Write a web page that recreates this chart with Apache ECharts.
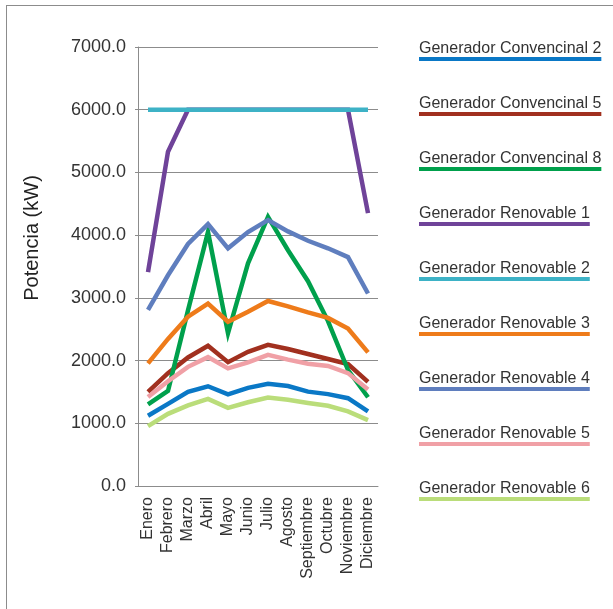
<!DOCTYPE html>
<html>
<head>
<meta charset="utf-8">
<script src="https://cdn.jsdelivr.net/npm/echarts@6/dist/echarts.min.js"></script>
<style>
  html, body { margin: 0; padding: 0; background: #fff; overflow: hidden; }
  #frame { position: absolute; left: 6px; top: 5px; width: 700px; height: 700px;
           border-left: 1px solid #8c8c8c; border-top: 1px solid #8c8c8c; }
  #chart { position: absolute; left: 0; top: 0; width: 613px; height: 609px; }
</style>
</head>
<body>
<div id="frame"></div>
<div id="chart"></div>
<script>
// Months on the category axis
const months = ['Enero', 'Febrero', 'Marzo', 'Abril', 'Mayo', 'Junio', 'Julio',
  'Agosto', 'Septiembre', 'Octubre', 'Noviembre', 'Diciembre'];

// Monthly power per generator (kW)
const convencional2 = [1120, 1310, 1500, 1590, 1460, 1565, 1630, 1595, 1505, 1465, 1400, 1190];
const convencional5 = [1500, 1800, 2050, 2235, 1975, 2140, 2250, 2185, 2105, 2025, 1945, 1660];
const convencional8 = [1300, 1515, 2800, 4050, 2435, 3550, 4290, 3760, 3265, 2630, 1850, 1415];
const renovable1 = [3410, 5330, 6000, 6000, 6000, 6000, 6000, 6000, 6000, 6000, 6000, 4350];
const renovable2 = [6000, 6000, 6000, 6000, 6000, 6000, 6000, 6000, 6000, 6000, 6000, 6000];
const renovable3 = [1955, 2345, 2700, 2910, 2620, 2780, 2950, 2865, 2768, 2680, 2510, 2130];
const renovable4 = [2810, 3360, 3860, 4175, 3790, 4050, 4240, 4060, 3910, 3790, 3650, 3070];
const renovable5 = [1420, 1670, 1900, 2055, 1875, 1970, 2090, 2015, 1950, 1915, 1800, 1540];
const renovable6 = [955, 1150, 1285, 1390, 1245, 1335, 1410, 1375, 1325, 1280, 1190, 1050];

// Y axis range
const yMin = 0, yMax = 7000, yStep = 1000;

const seriesDefs = [
  { name: 'Generador Convencinal 2', data: convencional2, color: '#0a78c6' },
  { name: 'Generador Convencinal 5', data: convencional5, color: '#a1301f' },
  { name: 'Generador Convencinal 8', data: convencional8, color: '#00a04c' },
  { name: 'Generador Renovable 1', data: renovable1, color: '#6f4399' },
  { name: 'Generador Renovable 2', data: renovable2, color: '#3db2c6' },
  { name: 'Generador Renovable 3', data: renovable3, color: '#ee7b1a' },
  { name: 'Generador Renovable 4', data: renovable4, color: '#5f7ebe' },
  { name: 'Generador Renovable 5', data: renovable5, color: '#f0a0a6' },
  { name: 'Generador Renovable 6', data: renovable6, color: '#badd7a' }
];

const FONT = '"Liberation Sans", Arial, sans-serif';
const chart = echarts.init(document.getElementById('chart'), null, { renderer: 'canvas' });

// Legend: label text with a coloured bar underneath, as wide as the text
const measureCtx = document.createElement('canvas').getContext('2d');
measureCtx.font = '16px ' + FONT;
const legendLeft = 419, legendFirstLine = 57, legendStep = 55;
const legendGraphics = [];
seriesDefs.forEach((s, i) => {
  const lineTop = legendFirstLine + i * legendStep;
  const w = measureCtx.measureText(s.name).width;
  legendGraphics.push({
    type: 'text', left: legendLeft, top: lineTop - 16,
    style: { text: s.name, fill: '#333', font: '16px ' + FONT }
  });
  legendGraphics.push({
    type: 'rect', shape: { x: legendLeft, y: lineTop, width: w, height: 4 },
    style: { fill: s.color }
  });
});

// Y axis title
legendGraphics.push({
  type: 'text', x: 32, y: 238, rotation: Math.PI / 2,
  style: { text: 'Potencia (kW)', fill: '#222', font: '20px ' + FONT,
           align: 'center', verticalAlign: 'middle' }
});

chart.setOption({
  animation: false,
  backgroundColor: 'transparent',
  grid: { left: 138, right: 235, top: 47, bottom: 123 },
  xAxis: {
    type: 'category',
    data: months,
    boundaryGap: true,
    axisLine: { lineStyle: { color: '#8c8c8c', width: 1 } },
    axisTick: { show: false },
    axisLabel: { rotate: 90, margin: 11, color: '#333', fontSize: 16, fontFamily: FONT, interval: 0 }
  },
  yAxis: {
    type: 'value',
    min: yMin, max: yMax, interval: yStep,
    axisLine: { show: true, lineStyle: { color: '#8c8c8c', width: 1 } },
    axisTick: { show: true, length: 3, lineStyle: { color: '#8c8c8c' } },
    splitLine: { lineStyle: { color: '#8c8c8c', width: 1 } },
    axisLabel: { margin: 12, color: '#333', fontSize: 18, fontFamily: FONT,
                 formatter: v => v.toFixed(1) }
  },
  graphic: legendGraphics,
  series: seriesDefs.map(s => ({
    name: s.name,
    type: 'line',
    data: s.data,
    showSymbol: false,
    symbol: 'none',
    lineStyle: { color: s.color, width: 4.5, join: 'miter' },
    itemStyle: { color: s.color }
  }))
});
</script>
</body>
</html>
